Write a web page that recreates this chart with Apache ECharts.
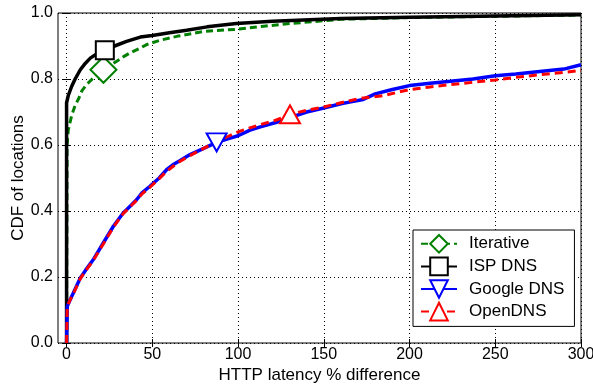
<!DOCTYPE html>
<html>
<head>
<meta charset="utf-8">
<script src="https://cdn.jsdelivr.net/npm/echarts@6/dist/echarts.min.js"></script>
<style>html,body{margin:0;padding:0;background:#fff;}#c{width:593px;height:386px;}</style>
</head>
<body>
<div id="c"></div>
<script>
const xTicks = [0, 50, 100, 150, 200, 250, 300];
const seriesNames = ['Iterative', 'ISP DNS', 'Google DNS', 'OpenDNS'];

const iterativeData = [[0,0],[0.3,0.6],[1,0.646],[3,0.69],[5,0.72],[7,0.74],[9,0.765],[12,0.785],[16,0.805],[21.5,0.828],[25,0.84],[29,0.853],[33,0.867],[37,0.879],[43,0.894],[47,0.905],[55,0.918],[65,0.93],[80,0.944],[100,0.951],[115,0.96],[130,0.968],[160,0.981],[200,0.986],[250,0.99],[300,0.994]];
const ispData = [[0,0],[0,0.728],[1,0.75],[3,0.778],[5,0.8],[8,0.828],[11,0.848],[14,0.864],[18,0.877],[22.3,0.887],[28,0.9],[35,0.914],[43,0.927],[50,0.932],[60,0.94],[70,0.948],[82,0.958],[99,0.968],[120,0.975],[160,0.983],[200,0.987],[250,0.991],[300,0.995]];
const googleData = [[0,0],[0.4,0.111],[2,0.13],[4,0.152],[8,0.197],[11,0.22],[15.5,0.252],[21.4,0.303],[27.2,0.353],[33,0.394],[36.9,0.414],[40.8,0.434],[44,0.455],[48.6,0.475],[54,0.5],[58.3,0.525],[62,0.54],[66,0.552],[72,0.571],[80,0.59],[87.5,0.608],[95,0.62],[100,0.628],[107,0.645],[113,0.655],[122,0.668],[130.3,0.683],[140,0.7],[150,0.712],[160,0.725],[165,0.73],[173,0.738],[180,0.755],[190,0.768],[200,0.78],[212,0.787],[224,0.793],[237,0.8],[250,0.81],[262,0.815],[276,0.823],[290,0.83],[300,0.843]];
const openData = [[0,0],[0.4,0.111],[2,0.13],[4,0.15],[8,0.195],[11,0.218],[15.5,0.25],[21.4,0.3],[27.2,0.35],[33,0.392],[36.9,0.412],[40.8,0.432],[44,0.452],[48.6,0.472],[54,0.498],[58.3,0.52],[62,0.535],[66,0.55],[72,0.568],[80,0.59],[87.5,0.61],[95,0.628],[100,0.64],[107,0.652],[113,0.662],[122,0.675],[130.3,0.693],[140,0.705],[150,0.715],[160,0.728],[170,0.74],[185,0.75],[200,0.768],[212,0.776],[224,0.783],[237,0.79],[250,0.797],[262,0.805],[276,0.813],[290,0.82],[300,0.826]];
// x value of the single marker drawn on each curve
const markerX = [21.5, 22.3, 87.5, 130.3];

const FONT = 'Liberation Sans';
const colors = ['#008000', '#000000', '#0000ff', '#ff0000'];
const symbols = ['emptyDiamond', 'emptyRect', 'emptyTriangle', 'emptyTriangle'];
const symbolSizes = [26, 18, [20, 18], [20, 18]];
const rotates = [0, 0, 180, 0];
const dashes = [[7, 4], 'solid', 'solid', [8, 5]];
const widths = [3, 3.5, 3.5, 3];
const datas = [iterativeData, ispData, googleData, openData];

function mk(i) {
  return {
    name: seriesNames[i],
    type: 'line',
    xAxisIndex: 0, yAxisIndex: 0,
    symbol: symbols[i],
    symbolSize: symbolSizes[i],
    symbolRotate: rotates[i],
    showSymbol: true,
    showAllSymbol: true,
    smooth: false,
    color: colors[i],
    itemStyle: { color: colors[i], borderColor: colors[i], borderWidth: 2 },
    lineStyle: { color: colors[i], width: widths[i], type: dashes[i] },
    emphasis: { disabled: true },
    data: datas[i].map(p => p[0] === markerX[i] ? { value: p } : { value: p, symbol: 'none' })
  };
}

const chart = echarts.init(document.getElementById('c'), null, { renderer: 'canvas' });
const axisLabelStyle = { fontFamily: FONT, fontSize: 16, color: '#000' };
chart.setOption({
  animation: false,
  backgroundColor: '#fff',
  textStyle: { fontFamily: FONT },
  grid: { left: 58, right: 12, top: 13, bottom: 43, show: true, borderColor: '#000', borderWidth: 1, backgroundColor: 'transparent', containLabel: false, outerBoundsMode: 'none' },
  legend: {
    orient: 'vertical', left: 413, top: 230,
    padding: [4, 10, 5, 7],
    itemWidth: 36, itemHeight: 22, itemGap: 3,
    textStyle: { fontFamily: FONT, fontSize: 17, color: '#000', padding: [0, 0, 0, 7] },
    borderColor: '#000', borderWidth: 1, backgroundColor: '#fff',
    selectedMode: false,
    data: seriesNames
  },
  xAxis: [{
    type: 'value', position: 'bottom', min: -5, max: 300,
    name: 'HTTP latency % difference', nameLocation: 'middle', nameGap: 24, nameMoveOverlap: false,
    nameTextStyle: { fontFamily: FONT, fontSize: 17, color: '#000' },
    axisLine: { show: false },
    axisTick: { show: true, inside: true, length: 4, customValues: xTicks, lineStyle: { color: '#000' } },
    axisLabel: Object.assign({ margin: 4, customValues: xTicks }, axisLabelStyle),
    splitLine: { show: true, lineStyle: { color: '#000', width: 1, type: [1, 3] } }
  }, {
    type: 'value', position: 'top', min: -5, max: 300,
    axisLine: { show: false },
    axisTick: { show: true, inside: true, length: 4, customValues: xTicks, lineStyle: { color: '#000' } },
    axisLabel: { show: false },
    splitLine: { show: false }
  }],
  yAxis: [{
    type: 'value', position: 'left', min: 0, max: 1, interval: 0.2,
    name: 'CDF of locations', nameLocation: 'middle', nameGap: 31, nameMoveOverlap: false,
    nameTextStyle: { fontFamily: FONT, fontSize: 17, color: '#000' },
    axisLine: { show: false },
    axisTick: { show: true, inside: true, length: 4, lineStyle: { color: '#000' } },
    axisLabel: Object.assign({ margin: 5, formatter: v => v.toFixed(1) }, axisLabelStyle),
    splitLine: { show: true, lineStyle: { color: '#000', width: 1, type: [1, 3] } }
  }, {
    type: 'value', position: 'right', min: 0, max: 1, interval: 0.2,
    axisLine: { show: false },
    axisTick: { show: true, inside: true, length: 4, lineStyle: { color: '#000' } },
    axisLabel: { show: false },
    splitLine: { show: false }
  }],
  series: [0, 1, 2, 3].map(mk)
});
</script>
</body>
</html>
